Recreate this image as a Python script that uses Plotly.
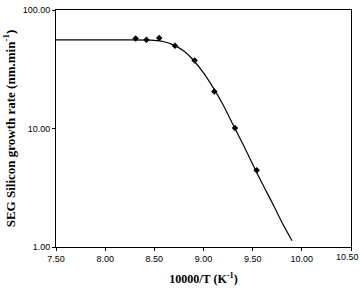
import plotly.graph_objects as go

# measured data points
pt_x = [8.31, 8.42, 8.55, 8.71, 8.91, 9.11, 9.32, 9.54]
pt_y = [57.5, 56.0, 58.0, 50.0, 37.5, 20.5, 10.1, 4.45]

# fitted curve
fit_x = [7.5, 8.0, 8.5, 8.6, 8.7, 8.8, 8.9, 9.0, 9.1, 9.2, 9.3, 9.4, 9.5, 9.6, 9.7, 9.8, 9.9]
fit_y = [56, 56, 55.5, 54, 50.5, 45, 37.5, 29.5, 22, 15.8, 10.8, 7.4, 5.0, 3.4, 2.35, 1.6, 1.13]

x_ticks = [7.5, 8.0, 8.5, 9.0, 9.5, 10.0, 10.5]
x_tick_text = ["7.50", "8.00", "8.50", "9.00", "9.50", "10.00", "10.50"]
y_ticks = [1, 10, 100]
y_tick_text = ["1.00", "10.00", "100.00"]

fig = go.Figure()
fig.add_trace(go.Scatter(x=fit_x, y=fit_y, mode="lines", line=dict(color="black", width=1.2, shape="spline"),
                         showlegend=False, hoverinfo="skip"))
fig.add_trace(go.Scatter(x=pt_x, y=pt_y, mode="markers",
                         marker=dict(symbol="diamond", color="black", size=5), showlegend=False))

fig.update_layout(
    width=360, height=288,
    margin=dict(l=56, r=9, t=10, b=41),
    paper_bgcolor="white", plot_bgcolor="white",
    font=dict(family="Liberation Sans, Arial", size=9, color="black"),
)
# last tick label drawn as an annotation nudged left so it stays inside the page
fig.add_annotation(x=x_ticks[-1], xref="x", y=0, yref="paper", text=x_tick_text[-1],
                   showarrow=False, xanchor="center", yanchor="top", xshift=-4, yshift=-4,
                   borderpad=0, font=dict(family="Liberation Sans, Arial", size=9, color="black"))
fig.update_xaxes(
    range=[7.5, 10.5], tickvals=x_ticks, ticktext=x_tick_text[:-1] + [""],
    showgrid=False, zeroline=False, automargin=False,
    showline=True, linecolor="black", linewidth=1, mirror=True,
    ticks="outside", ticklen=3, tickcolor="black",
    title=dict(text="<b>10000/T (K<sup>-1</sup>)</b>", font=dict(family="Liberation Serif, Times New Roman", size=12), standoff=11),
)
fig.update_yaxes(
    type="log", range=[0, 2], tickvals=y_ticks, ticktext=y_tick_text,
    showgrid=False, zeroline=False, automargin=False, ticklabeloverflow="allow",
    showline=True, linecolor="black", linewidth=1, mirror=True,
    ticks="outside", ticklen=3, tickcolor="black",
    title=dict(text="<b>SEG Silicon growth rate (nm.min<sup>-1</sup>)</b>", font=dict(family="Liberation Serif, Times New Roman", size=13), standoff=4),
)

fig.write_html("out.html")
